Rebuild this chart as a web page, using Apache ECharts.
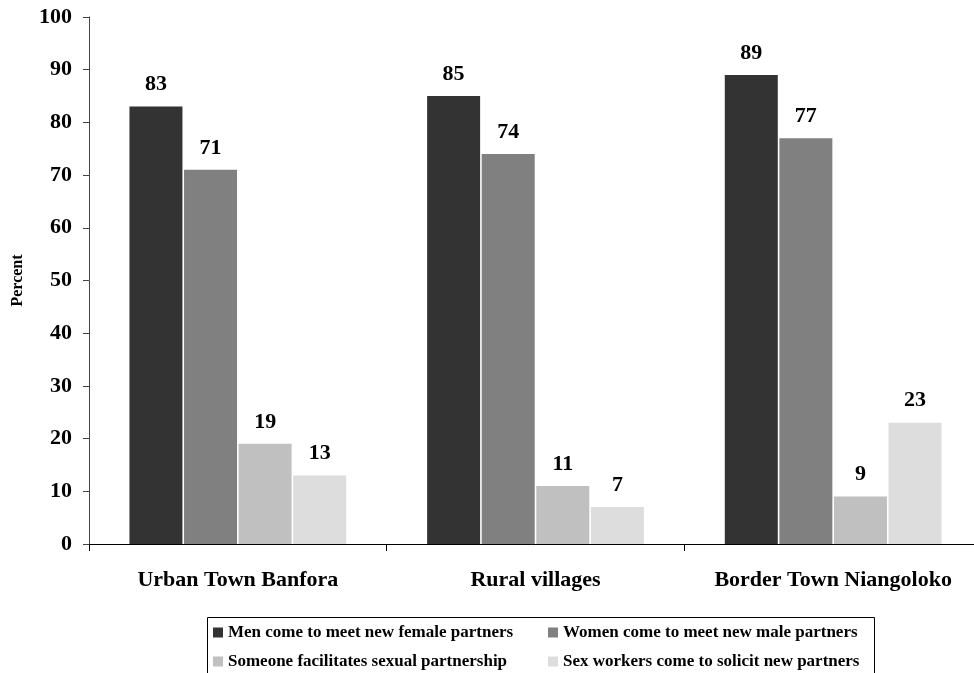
<!DOCTYPE html>
<html>
<head>
<meta charset="utf-8">
<script src="https://cdn.jsdelivr.net/npm/echarts@6/dist/echarts.min.js"></script>
<style>
  html, body { margin: 0; padding: 0; background: #fff; }
  #chart { width: 974px; height: 673px; }
</style>
</head>
<body>
<div id="chart"></div>
<script>
// Where new sexual partners are met, by setting (percent)
const categories = ['Urban Town Banfora', 'Rural villages', 'Border Town Niangoloko'];
const seriesNames = [
  'Men come to meet new female partners',
  'Women come to meet new male partners',
  'Someone facilitates sexual partnership',
  'Sex workers come to solicit new partners'
];
const menMeetFemale = [83, 85, 89];
const womenMeetMale = [71, 74, 77];
const facilitated = [19, 11, 9];
const sexWorkersSolicit = [13, 7, 23];
const yTicks = [0, 10, 20, 30, 40, 50, 60, 70, 80, 90, 100];

const seriesValues = [menMeetFemale, womenMeetMale, facilitated, sexWorkersSolicit];
const barColors = ['#333333', '#808080', '#c0c0c0', '#dddddd'];
const FONT = '"Liberation Serif", "Times New Roman", serif';

const chart = echarts.init(document.getElementById('chart'), null, { renderer: 'canvas' });

// two legend columns sharing one framed box
function legendColumn(names, left, padLeft) {
  return {
    data: names,
    left: left,
    top: 615,
    orient: 'vertical',
    icon: 'rect',
    itemWidth: 10,
    itemHeight: 10,
    itemGap: 12,
    padding: [9, 0, 0, padLeft],
    textStyle: { fontFamily: FONT, fontWeight: 'bold', fontSize: 17, color: '#000' }
  };
}

chart.setOption({
  animation: false,
  backgroundColor: '#ffffff',
  grid: { left: 89, top: 17, bottom: 129, right: -8, containLabel: false, outerBoundsMode: 'none' },
  legend: [
    legendColumn([seriesNames[0], seriesNames[2]], 205, 8),
    legendColumn([seriesNames[1], seriesNames[3]], 548, 0)
  ],
  graphic: [{
    type: 'rect',
    left: 205,
    top: 615,
    shape: { width: 667, height: 80 },
    style: { fill: 'none', stroke: '#000', lineWidth: 1 },
    silent: true
  }],
  xAxis: {
    type: 'category',
    data: categories,
    axisLine: { lineStyle: { color: '#000', width: 1 } },
    axisTick: { show: true, length: 7, interval: 0, alignWithLabel: false, lineStyle: { color: '#000' } },
    axisLabel: {
      interval: 0,
      hideOverlap: false,
      margin: 25,
      fontFamily: FONT,
      fontWeight: 'bold',
      fontSize: 22,
      color: '#000'
    },
    splitLine: { show: false }
  },
  yAxis: {
    type: 'value',
    min: yTicks[0],
    max: yTicks[yTicks.length - 1],
    interval: yTicks[1] - yTicks[0],
    name: 'Percent',
    nameLocation: 'middle',
    nameGap: 63,
    nameRotate: 90,
    nameTextStyle: { fontFamily: FONT, fontWeight: 'bold', fontSize: 16, color: '#000' },
    axisLine: { show: true, lineStyle: { color: '#444', width: 1 } },
    axisTick: { show: true, inside: false, length: 6, lineStyle: { color: '#444' } },
    axisLabel: {
      margin: 17,
      fontFamily: FONT,
      fontWeight: 'bold',
      fontSize: 22,
      color: '#000'
    },
    splitLine: { show: false }
  },
  series: seriesNames.map((name, i) => ({
    name: name,
    type: 'bar',
    data: seriesValues[i],
    barWidth: 53,
    barGap: '3%',
    itemStyle: { color: barColors[i] },
    label: {
      show: true,
      position: 'top',
      distance: 11,
      fontFamily: FONT,
      fontWeight: 'bold',
      fontSize: 22,
      color: '#000'
    }
  }))
});
</script>
</body>
</html>
